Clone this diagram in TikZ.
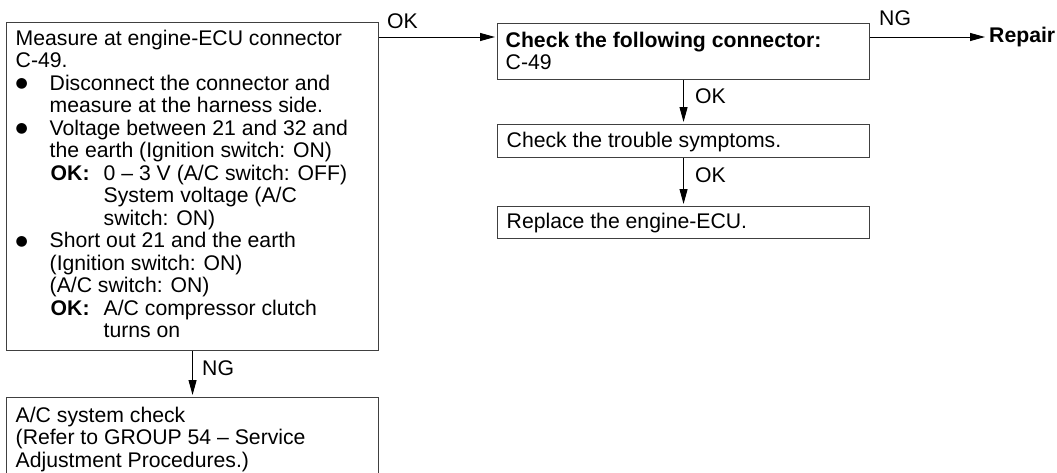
\documentclass[tikz,border=0pt]{standalone}
\usepackage{fontspec}
\setmainfont{Liberation Sans}
\newfontfamily\symfont{DejaVu Sans}
\usetikzlibrary{arrows.meta}
\newcommand\mybul{\makebox[34pt][l]{\raisebox{2.5pt}{\symfont\fontsize{14}{14}\selectfont ●}}}
\newcommand\myind{\hspace*{34pt}}
\newcommand\okind{\hspace*{35pt}\makebox[53pt][l]{\textbf{OK:}}}
\newcommand\valind{\hspace*{88pt}}
\begin{document}
\begin{tikzpicture}[x=1pt,y=-1pt,
  box/.style={draw=black!75, line width=1.1pt, rectangle, inner sep=0pt, anchor=north west},
  txt/.style={anchor=base west, inner sep=0pt, font=\fontsize{21.2}{22.5}\selectfont},
  arr/.style={-{Triangle[length=15pt,width=8pt]}, line width=1pt, shorten >=2pt}]
\useasboundingbox (0,0) rectangle (1057,472);
% boxes
\node[box, minimum width=372pt, minimum height=328pt] (main) at (6,22) {};
\node[box, minimum width=372pt, minimum height=84pt] (bottom) at (6,397) {};
\node[box, minimum width=372pt, minimum height=56pt] (box2) at (497,23) {};
\node[box, minimum width=372pt, minimum height=33pt] (box3) at (497,124) {};
\node[box, minimum width=372pt, minimum height=32pt] (box4) at (497,206) {};
% texts
\node[txt] (maintext) at (15.5,45) {\begin{minipage}[t]{360pt}\raggedright
Measure at engine-ECU connector\\
C-49.\\
\mybul Disconnect the connector and\\
\myind measure at the harness side.\\
\mybul Voltage between 21 and 32 and\\
\myind the earth (Ignition switch: ON)\\
\okind 0 – 3 V (A/C switch: OFF)\\
\valind System voltage (A/C\\
\valind switch: ON)\\
\mybul Short out 21 and the earth\\
\myind (Ignition switch: ON)\\
\myind (A/C switch: ON)\\
\okind A/C compressor clutch\\
\valind turns on
\end{minipage}};
\node[txt] (bottomtext) at (15.5,422) {\begin{minipage}[t]{360pt}\raggedright
A/C system check\\
(Refer to GROUP 54 – Service\\
Adjustment Procedures.)
\end{minipage}};
\node[txt] (box2text) at (505.5,47) {\begin{minipage}[t]{360pt}\raggedright
\textbf{Check the following connector:}\\
C-49
\end{minipage}};
\node[txt] (box3text) at (506.5,147) {Check the trouble symptoms.};
\node[txt] (box4text) at (506.5,228) {Replace the engine-ECU.};
% end label
\node[anchor=west, inner xsep=4pt, inner ysep=0pt, font=\fontsize{21.2}{22.5}\selectfont\bfseries] (repair) at (985,37) {Repair};
% connectors
\draw[arr] ([yshift=-15pt]main.north east) -- ([yshift=-14pt]box2.north west);
\draw[arr, shorten >=0pt] ([yshift=-14pt]box2.north east) -- (repair.west);
\draw[arr] (box2.south) -- (box3.north);
\draw[arr] (box3.south) -- (box4.north);
\draw[arr] (main.south) -- (bottom.north);
% connector labels
\node[txt] (okA) at (387,28) {OK};
\node[txt] (ngA) at (879,25) {NG};
\node[txt] (okB) at (695,103) {OK};
\node[txt] (okC) at (695,182) {OK};
\node[txt] (ngB) at (202,375) {NG};
\end{tikzpicture}
\end{document}
